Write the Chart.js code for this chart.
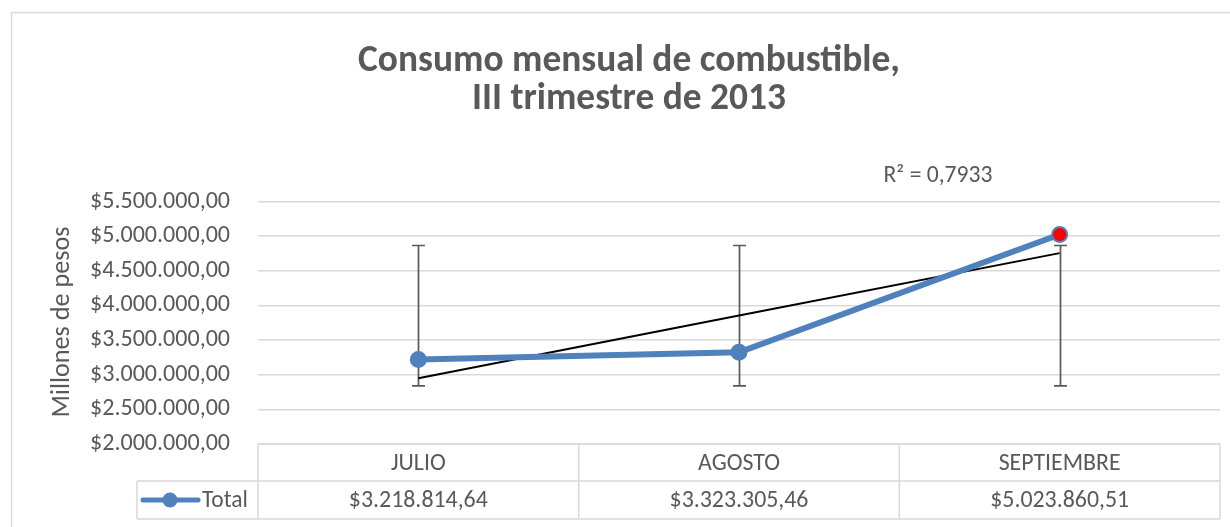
<!DOCTYPE html>
<html><head><meta charset="utf-8">
<script src="https://cdn.jsdelivr.net/npm/chart.js@4"></script>
<style>html,body{margin:0;padding:0;background:#fff}canvas{display:block}</style>
</head><body>
<canvas id="c" width="1230" height="527"></canvas>
<script>
const categories = ['JULIO', 'AGOSTO', 'SEPTIEMBRE'];
const totals = [3218814.64, 3323305.46, 5023860.51];
const tableValues = ['$3.218.814,64', '$3.323.305,46', '$5.023.860,51'];
const trendValues = [2950000, 3855000, 4755000];
const errLow = [2840000, 2840000, 2840000];
const errHigh = [4865000, 4865000, 4865000];
const yMin = 2000000, yMax = 5500000, yStep = 500000;
const titleLines = ['Consumo mensual de combustible,', 'III trimestre de 2013'];
const seriesName = 'Total';
const yAxisTitle = 'Millones de pesos';
const r2Label = 'R² = 0,7933';

const FAM = 'Carlito, Lato, sans-serif';
const TXT = '#595959';
const BLUE = '#4F81BD';
const GRID = '#d9d9d9';

function fmt(v) {
  const s = Math.round(v).toString().replace(/\B(?=(\d{3})+(?!\d))/g, '.');
  return '$' + s + ',00';
}
const meas = document.createElement('canvas').getContext('2d');
function fit(text, w, weight) {
  meas.font = (weight || 'normal') + ' 100px ' + FAM;
  return 100 * w / meas.measureText(text).width;
}
const tickSize = fit(fmt(5500000), 140);
const titleSize = fit(titleLines[0], 542, 'bold');
const yTitleSize = fit(yAxisTitle, 191);
const r2Size = fit(r2Label, 109);
const valSize = fit(tableValues[1], 139);
const catSize = fit(categories[1], 82);
const legSize = fit(seriesName, 46);

const deco = {
  id: 'deco',
  beforeDraw(chart) {
    const c = chart.ctx;
    c.save();
    c.fillStyle = '#fff';
    c.fillRect(0, 0, chart.width, chart.height);
    c.strokeStyle = GRID;
    c.lineWidth = 1.5;
    c.strokeRect(11.5, 12.5, 1400, 700);
    c.restore();
  },
  beforeDatasetsDraw(chart) {
    const c = chart.ctx, xs = chart.scales.x, ys = chart.scales.y;
    c.save();
    c.strokeStyle = '#595959';
    c.lineWidth = 1.7;
    categories.forEach((_, i) => {
      const x = Math.round(xs.getPixelForValue(i)) + 0.5;
      const y1 = ys.getPixelForValue(errLow[i]);
      const y2 = ys.getPixelForValue(errHigh[i]);
      c.beginPath();
      c.moveTo(x, y1); c.lineTo(x, y2);
      c.moveTo(x - 6.5, y1); c.lineTo(x + 6.5, y1);
      c.moveTo(x - 6.5, y2); c.lineTo(x + 6.5, y2);
      c.stroke();
    });
    c.restore();
  },
  afterDraw(chart) {
    const c = chart.ctx, xs = chart.scales.x, ca = chart.chartArea;
    c.save();
    c.fillStyle = TXT;
    c.textAlign = 'center';
    c.textBaseline = 'alphabetic';
    c.font = 'bold ' + titleSize + 'px ' + FAM;
    c.fillText(titleLines[0], 629, 71);
    c.fillText(titleLines[1], 629, 109);
    c.font = r2Size + 'px ' + FAM;
    c.fillText(r2Label, 938, 182);
    c.save();
    c.translate(69, 322);
    c.rotate(-Math.PI / 2);
    c.font = yTitleSize + 'px ' + FAM;
    c.fillText(yAxisTitle, 0, 0);
    c.restore();
    const step = xs.getPixelForValue(1) - xs.getPixelForValue(0);
    const left = ca.left, right = ca.right;
    const r0 = ca.bottom, r1 = 481, r2 = 519, legL = 137;
    c.strokeStyle = GRID;
    c.lineWidth = 1.5;
    c.beginPath();
    c.moveTo(left, r0); c.lineTo(right, r0);
    c.moveTo(legL, r1); c.lineTo(right, r1);
    c.moveTo(legL, r2); c.lineTo(right, r2);
    c.moveTo(legL, r1); c.lineTo(legL, r2);
    for (let k = 0; k <= categories.length; k++) {
      const x = left + k * step;
      c.moveTo(x, r0); c.lineTo(x, r2);
    }
    c.stroke();
    c.textAlign = 'center';
    categories.forEach((cat, i) => {
      const x = xs.getPixelForValue(i);
      c.font = catSize + 'px ' + FAM;
      c.fillText(cat, x, 470);
      c.font = valSize + 'px ' + FAM;
      c.fillText(tableValues[i], x, 507);
    });
    c.strokeStyle = BLUE;
    c.lineWidth = 5;
    c.lineCap = 'round';
    c.beginPath();
    c.moveTo(143, 500); c.lineTo(198, 500);
    c.stroke();
    c.fillStyle = BLUE;
    c.beginPath();
    c.arc(170, 500, 7.5, 0, Math.PI * 2);
    c.fill();
    c.fillStyle = TXT;
    c.textAlign = 'left';
    c.font = legSize + 'px ' + FAM;
    c.fillText(seriesName, 202, 507);
    c.restore();
  }
};

new Chart(document.getElementById('c'), {
  type: 'line',
  data: {
    labels: categories,
    datasets: [
      {
        label: seriesName,
        data: totals,
        borderColor: BLUE,
        borderWidth: 6,
        pointRadius: 7.5,
        pointBackgroundColor: [BLUE, BLUE, '#FF0000'],
        pointBorderColor: BLUE,
        pointBorderWidth: 2,
        tension: 0,
        order: 0
      },
      {
        label: 'Tendencia',
        data: trendValues,
        borderColor: '#000',
        borderWidth: 2,
        pointRadius: 0,
        tension: 0,
        order: 1
      }
    ]
  },
  options: {
    responsive: false,
    devicePixelRatio: 1,
    animation: false,
    layout: { padding: { left: 0, right: 10, top: 201.5, bottom: 83 } },
    plugins: { legend: { display: false }, title: { display: false }, tooltip: { enabled: false } },
    scales: {
      x: { type: 'category', display: false, offset: true },
      y: {
        min: yMin, max: yMax,
        border: { display: false },
        grid: { color: GRID, lineWidth: 1.5, drawTicks: false },
        afterFit(s) { s.width = 258; },
        ticks: {
          stepSize: yStep,
          padding: 28,
          color: TXT,
          font: { family: FAM, size: tickSize },
          callback: v => fmt(v)
        }
      }
    }
  },
  plugins: [deco]
});
</script>
</body></html>
